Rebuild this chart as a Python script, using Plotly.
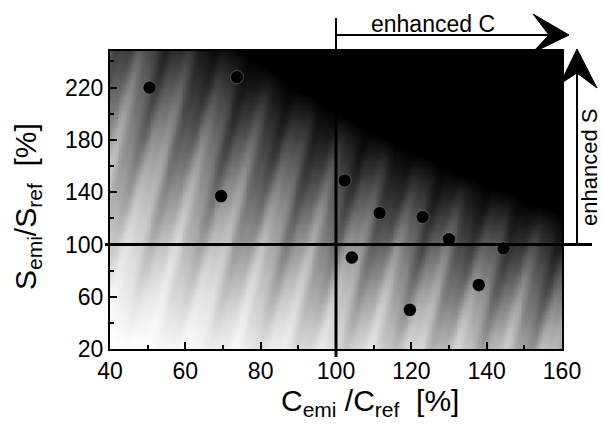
import numpy as np
import plotly.graph_objects as go

# ---- data ----
c_ratio = [50.5, 69.5, 73.7, 102.3, 111.6, 123.0, 130.0, 144.5, 104.2, 137.9, 119.6]
s_ratio = [220, 137, 228, 149, 124, 121, 104, 97, 90, 69, 50]

x_ticks = [40, 60, 80, 100, 120, 140, 160]
x_minor = [50, 70, 90, 110, 130, 150]
y_ticks = [20, 60, 100, 140, 180, 220]
y_minor = [40, 80, 120, 160, 200, 240]
X_RANGE = [40, 160]
Y_RANGE = [20, 248]
REF = 100

FONT = "Liberation Sans, Arial, Helvetica, sans-serif"

# ---- decorative background shading (white bottom-left -> black top-right) ----
gx = np.linspace(X_RANGE[0] + 0.25, X_RANGE[1] - 0.25, 240)
gy = np.linspace(Y_RANGE[0] + 0.5, Y_RANGE[1] - 0.5, 228)
GX, GY = np.meshgrid(gx, gy)
u = (GX - X_RANGE[0]) / (X_RANGE[1] - X_RANGE[0])
v = (GY - Y_RANGE[0]) / (Y_RANGE[1] - Y_RANGE[0])
d = np.clip(0.45 * u + 0.72 * v + 0.5 * u * v, 0, 1) ** 1.3
px = u * 452
py = (1 - v) * 298
streak = (0.10 * np.sin(2 * np.pi * (px + 0.3 * py) / 45)
          + 0.03 * np.sin(2 * np.pi * (px + 0.25 * py) / 17)) * np.clip(4 * d * (1 - d), 0, 1)
z = np.clip(d + streak, 0, 1)

fig = go.Figure()
fig.add_trace(go.Heatmap(x=gx, y=gy, z=z, zmin=0, zmax=1,
                         colorscale=[[0, "#ffffff"], [1, "#000000"]],
                         showscale=False, hoverinfo="skip"))
fig.add_trace(go.Scatter(x=c_ratio, y=s_ratio, mode="markers",
                         marker=dict(color="black", size=13,
                                     line=dict(color="rgba(255,255,255,0.3)", width=0.8)),
                         showlegend=False))

W, H = 602, 428
L, R, T, B = 110, 40, 51, 79
pw, ph = W - L - R, H - T - B


def pxp(x):  # pixel x -> paper
    return (x - L) / pw


def pyp(y):  # pixel y -> paper
    return (H - B - y) / ph


ref_paper_x = (REF - X_RANGE[0]) / (X_RANGE[1] - X_RANGE[0])

shapes = [
    # vertical reference line at C = 100 %
    dict(type="line", xref="x", yref="paper", x0=REF, x1=REF, y0=pyp(357), y1=pyp(51),
         line=dict(color="black", width=3)),
    dict(type="line", xref="x", yref="paper", x0=REF, x1=REF, y0=pyp(51), y1=pyp(18),
         line=dict(color="black", width=2)),
    # horizontal reference line at S = 100 %
    dict(type="line", xref="paper", yref="y", x0=pxp(105), x1=pxp(592), y0=REF, y1=REF,
         line=dict(color="black", width=3)),
    # enhanced C arrow
    dict(type="line", xref="paper", yref="paper", x0=ref_paper_x, x1=pxp(560), y0=pyp(35), y1=pyp(35),
         line=dict(color="black", width=2)),
    dict(type="path", xref="paper", yref="paper",
         path=f"M {pxp(533)} {pyp(14)} L {pxp(569)} {pyp(35)} L {pxp(532)} {pyp(53)} L {pxp(549)} {pyp(35)} Z",
         fillcolor="black", line=dict(color="black", width=1)),
    # enhanced S arrow
    dict(type="line", xref="paper", yref="paper", x0=pxp(577), x1=pxp(577), y0=pyp(244), y1=pyp(70),
         line=dict(color="black", width=2)),
    dict(type="path", xref="paper", yref="paper",
         path=f"M {pxp(577)} {pyp(49)} L {pxp(597)} {pyp(88)} L {pxp(577)} {pyp(73)} L {pxp(560)} {pyp(84)} Z",
         fillcolor="black", line=dict(color="black", width=1)),
]

annotations = [
    dict(text="enhanced C", xref="paper", yref="paper", x=pxp(433), y=pyp(24),
         xanchor="center", yanchor="middle", showarrow=False,
         font=dict(family=FONT, size=23, color="black")),
    dict(text="enhanced S", xref="paper", yref="paper", x=pxp(589), y=pyp(168),
         xanchor="center", yanchor="middle", showarrow=False, textangle=-90,
         font=dict(family=FONT, size=22, color="black")),
    dict(text="C<sub>emi</sub>\u00a0/C<sub>ref</sub>\u00a0\u00a0[%]", xref="paper", yref="paper",
         x=pxp(370), y=pyp(402), xanchor="center", yanchor="middle", showarrow=False,
         font=dict(family=FONT, size=30, color="black")),
    dict(text="S<sub>emi</sub>/S<sub>ref</sub>\u00a0\u00a0[%]", xref="paper", yref="paper",
         x=pxp(27), y=pyp(207), xanchor="center", yanchor="middle", showarrow=False,
         textangle=-90, font=dict(family=FONT, size=30, color="black")),
]

axis_common = dict(showline=True, linewidth=2, linecolor="black", mirror=True,
                   ticks="inside", ticklen=7, tickwidth=1.5, tickcolor="black",
                   showgrid=False, zeroline=False,
                   tickfont=dict(family=FONT, size=23, color="black"))

fig.update_layout(
    width=W, height=H,
    margin=dict(l=L, r=R, t=T, b=B),
    paper_bgcolor="white", plot_bgcolor="white",
    showlegend=False,
    xaxis=dict(range=X_RANGE, tickmode="array", tickvals=x_ticks,
               minor=dict(tickmode="array", tickvals=x_minor, ticks="inside", ticklen=4,
                          tickcolor="black", showgrid=False),
               **axis_common),
    yaxis=dict(range=Y_RANGE, tickmode="array", tickvals=y_ticks,
               minor=dict(tickmode="array", tickvals=y_minor, ticks="inside", ticklen=4,
                          tickcolor="black", showgrid=False),
               **axis_common),
    shapes=shapes,
    annotations=annotations,
)

fig.write_html("out.html")
